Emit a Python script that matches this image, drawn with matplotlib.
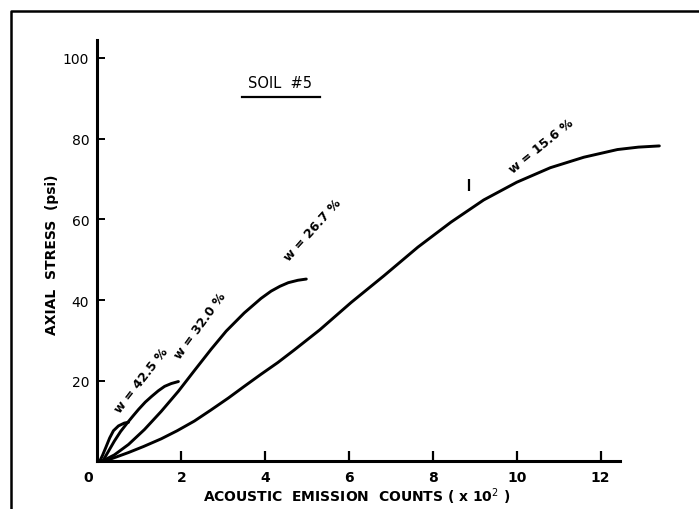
import matplotlib
matplotlib.use("Agg")
import matplotlib.pyplot as plt
from matplotlib.lines import Line2D

plt.rcParams['font.family'] = ['DejaVu Sans']

# curves (counts x10^2, axial stress psi)
w425_x = [0.05, 0.12, 0.2, 0.29, 0.38, 0.5, 0.64, 0.74]
w425_y = [0.0, 1.5, 3.5, 5.8, 7.6, 8.8, 9.5, 9.7]

w320_x = [0.12, 0.25, 0.4, 0.55, 0.7, 0.85, 0.98, 1.14, 1.29, 1.45, 1.6, 1.76, 1.93]
w320_y = [0.0, 2.3, 5.0, 7.4, 9.4, 11.3, 12.9, 14.7, 16.1, 17.5, 18.6, 19.3, 19.8]

w267_x = [0.1, 0.4, 0.74, 1.12, 1.52, 1.93, 2.31, 2.71, 3.07, 3.5, 3.9, 4.14, 4.35, 4.55, 4.78, 4.98]
w267_y = [0.0, 1.6, 4.2, 7.9, 12.4, 17.4, 22.5, 27.8, 32.3, 36.8, 40.4, 42.2, 43.4, 44.3, 44.9, 45.2]

w156_x = [0.15, 0.45, 0.74, 1.1, 1.52, 1.9, 2.31, 2.7, 3.12, 3.5, 3.9, 4.3, 4.69, 5.3, 6.05,
          6.83, 7.64, 8.43, 9.21, 10.0, 10.8, 11.6, 12.4, 12.9, 13.4]
w156_y = [0.0, 1.1, 2.2, 3.7, 5.6, 7.6, 10.0, 12.7, 15.7, 18.6, 21.6, 24.5, 27.6, 32.6, 39.4,
          46.0, 53.1, 59.3, 64.8, 69.2, 72.8, 75.4, 77.3, 77.9, 78.2]

curve_labels = ["w = 42.5 %", "w = 32.0 %", "w = 26.7 %", "w = 15.6 %"]
label_x = [1.06, 2.44, 5.14, 10.58]
label_y = [20.2, 33.8, 57.6, 78.4]
label_rot = [52, 54, 48, 39]

xticks = [2, 4, 6, 8, 10, 12]
yticks = [20, 40, 60, 80, 100]
stray_mark = (8.85, 68.5)

fig = plt.figure(figsize=(6.99, 5.10), dpi=100)
ax = fig.add_axes([97.5 / 699, 47.6 / 510, 587 / 699, 423.6 / 510])
ax.set_xlim(0, 14)
ax.set_ylim(0, 105)

lw = 2.1
for xs, ys in [(w425_x, w425_y), (w320_x, w320_y), (w267_x, w267_y), (w156_x, w156_y)]:
    ax.plot(xs, ys, color='black', lw=lw, solid_capstyle='round', solid_joinstyle='round')

ax.plot([stray_mark[0]], [stray_mark[1]], marker='|', ms=8, mew=1.6, color='black')

for t, x, y, r in zip(curve_labels, label_x, label_y, label_rot):
    ax.text(x, y, t, rotation=r, rotation_mode='anchor', ha='center', va='center',
            fontsize=9, fontweight='bold')

# title with underline
ax.text(4.35, 93.8, "SOIL  #5", ha='center', va='center', fontsize=10.5)
ax.plot([3.45, 5.31], [90.3, 90.3], color='black', lw=1.6)

for s in ['top', 'right']:
    ax.spines[s].set_visible(False)
ax.spines['left'].set_linewidth(2.2)
ax.spines['bottom'].set_linewidth(2.2)
ax.spines['left'].set_bounds(0, 104.5)
ax.spines['bottom'].set_bounds(0, 12.45)

ax.set_xticks(xticks)
ax.set_xticklabels([str(v) for v in xticks], fontsize=10, fontweight='bold')
ax.set_yticks(yticks)
ax.set_yticklabels([str(v) for v in yticks], fontsize=10)
ax.tick_params(axis='x', direction='in', length=7, width=1.6, pad=6)
ax.tick_params(axis='y', direction='in', length=6, width=1.4, pad=6)
ax.text(-0.23, -3.9, "0", ha='center', va='center', fontsize=10, fontweight='bold')

fig.text(52 / 699, 1 - 255 / 510, "AXIAL  STRESS  (psi)", rotation=90, ha='center', va='center',
         fontsize=10, fontweight='bold')
fig.text(357 / 699, 1 - 497 / 510, "ACOUSTIC  EMISSION  COUNTS ( x 10$^2$ )", ha='center',
         va='center', fontsize=10, fontweight='bold')

# outer frame of the scanned page
fx = 11 / 699
fy = 1 - 12 / 510
fig.add_artist(Line2D([fx, fx, 1], [0, fy, fy], transform=fig.transFigure, color='black', lw=1.8))

fig.savefig("out.png", dpi=100)
